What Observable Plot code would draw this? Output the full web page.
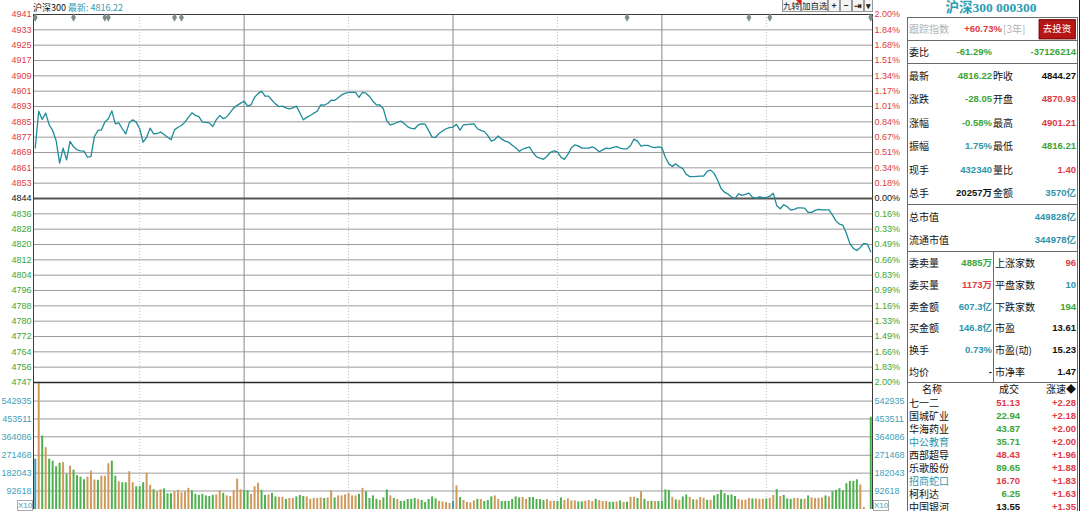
<!DOCTYPE html>
<html lang="zh">
<head>
<meta charset="UTF-8">
<title>沪深300 分时</title>
<script src="https://cdn.jsdelivr.net/npm/d3@7"></script>
<script src="https://cdn.jsdelivr.net/npm/@observablehq/plot@0.6"></script>
<style>
  body { margin: 0; background: #fff; overflow: hidden; }
  #page { position: relative; width: 1080px; height: 511px; overflow: hidden; font-family: "Liberation Sans", Arial, "Noto Sans CJK SC", sans-serif; }
  #price, #volume { position: absolute; left: 0; }
  #price { top: 0; }
  #volume { top: 382px; }
  .t { position: absolute; white-space: nowrap; line-height: 1; transform: translateY(-50%); }
  .cn { font-family: "Noto Sans CJK SC", sans-serif; font-size: 10px; }
  .num { font-family: "Liberation Sans", "Noto Sans CJK SC", sans-serif; font-size: 9.5px; font-weight: bold; }
  .ln { position: absolute; background: #6a6a6a; }
  .btn { position: absolute; top: 0; height: 12px; border: 1px solid #999; border-top: none; background: #f4f4f4;
         font: 8.5px "Noto Sans CJK SC", sans-serif; line-height: 11px; text-align: center; color: #222;
         box-sizing: border-box; white-space: nowrap; overflow: hidden; }
  .x10 { position: absolute; top: 500px; width: 16px; height: 11px; border: 1px solid #aaa; box-sizing: border-box;
         font: 8px "Liberation Sans", sans-serif; line-height: 10px; text-align: center; color: #3f9fba; background: #fff; }
</style>
</head>
<body>
<div id="page">
  <div id="price"></div>
  <div id="volume"></div>
</div>
<script>
// 昨收
const base = 4844.27;

// 分时价格 (每分钟, 9:30 - 11:30, 13:01 - 15:00)
const price = [
  4870.9, 4890.2, 4885.9, 4889.2, 4883.1, 4880.1, 4874.8, 4862.9, 4870.8, 4864.6,
  4874.3, 4871.5, 4869.9, 4869.4, 4869.2, 4866.0, 4866.3, 4876.9, 4880.1, 4880.4,
  4884.5, 4886.3, 4890.4, 4883.6, 4884.1, 4881.0, 4878.3, 4884.1, 4885.7, 4884.5,
  4881.0, 4873.9, 4876.5, 4881.3, 4878.3, 4878.5, 4879.2, 4878.0, 4876.5, 4875.2,
  4880.4, 4881.8, 4882.7, 4884.5, 4887.0, 4889.4, 4888.0, 4887.4, 4884.5, 4884.3,
  4884.1, 4882.2, 4885.7, 4888.0, 4886.3, 4887.2, 4889.5, 4892.0, 4893.3, 4894.5,
  4895.5, 4893.0, 4893.6, 4897.6, 4899.5, 4900.8, 4898.2, 4898.2, 4896.0, 4894.1,
  4892.7, 4892.9, 4892.0, 4891.5, 4892.0, 4892.9, 4889.4, 4885.7, 4887.0, 4888.0,
  4889.2, 4890.2, 4893.6, 4893.4, 4894.3, 4896.0, 4895.9, 4897.3, 4898.8, 4899.6,
  4900.1, 4900.1, 4900.1, 4897.5, 4900.1, 4899.7, 4898.0, 4895.5, 4893.6, 4893.5,
  4891.5, 4885.0, 4883.0, 4883.5, 4884.4, 4885.0, 4883.8, 4882.0, 4881.2, 4881.0,
  4883.0, 4883.6, 4883.4, 4880.0, 4876.6, 4876.5, 4878.5, 4879.8, 4881.0, 4881.6,
  4881.9, 4883.3, 4880.3, 4883.0, 4883.2, 4883.4, 4883.6, 4881.0, 4880.1, 4879.5,
  4877.4, 4874.5, 4875.3, 4877.2, 4875.5, 4874.5, 4873.9, 4872.3, 4871.0, 4869.1,
  4870.2, 4870.9, 4871.3, 4868.5, 4866.2, 4865.5, 4864.9, 4866.5, 4868.6, 4869.4,
  4868.8, 4866.0, 4864.9, 4867.5, 4871.0, 4872.5, 4872.0, 4870.8, 4870.8, 4870.8,
  4871.5, 4870.5, 4868.9, 4869.9, 4870.8, 4870.5, 4871.2, 4871.6, 4870.8, 4870.4,
  4870.4, 4872.2, 4875.5, 4874.5, 4871.8, 4872.2, 4872.2, 4871.4, 4871.0, 4871.4,
  4871.0, 4866.0, 4862.5, 4861.2, 4862.5, 4861.0, 4860.0, 4857.0, 4855.8, 4855.8,
  4855.9, 4856.0, 4856.1, 4858.5, 4859.2, 4857.5, 4854.0, 4849.5, 4847.6, 4846.6,
  4845.0, 4844.2, 4846.7, 4845.9, 4846.4, 4847.1, 4845.0, 4844.3, 4845.2, 4844.7,
  4844.8, 4845.5, 4847.0, 4840.5, 4838.9, 4841.0, 4840.0, 4838.2, 4838.6, 4839.3,
  4839.3, 4839.2, 4837.0, 4837.0, 4838.0, 4838.5, 4838.3, 4838.3, 4838.3, 4835.5,
  4832.5, 4830.8, 4830.2, 4826.0, 4820.5, 4818.0, 4816.9, 4818.5, 4820.6, 4820.3,
  4816.2
];

// 成交量 (千, 坐标单位 X10)
const volK = [
  252, 630, 368, 310, 252, 242, 214, 232, 235, 176,
  217, 197, 169, 162, 149, 162, 192, 147, 146, 167,
  167, 229, 242, 167, 139, 134, 134, 189, 134, 114,
  114, 134, 182, 121,  99,  89,  99, 103,  79,  79,
   89,  96,  84,  89, 106,  94,  76,  71,  76,  68,
   65,  71,  73,  94,  81,  68,  65,  94, 152,  99,
   94,  94,  76, 114, 131,  96,  70,  73,  81,  63,
   61,  61,  51,  55,  55,  63,  70,  65,  63,  51,
   55,  55,  58,  55,  58,  94,  58,  68,  68,  73,
   81,  68,  68,  76, 106,  89,  55,  68,  51,  45,
   58,  98,  68,  55,  50,  41,  41,  50,  50,  55,
   50,  45,  35,  50,  63,  53,  41,  38,  35,  30,
   40, 118,  60,  45,  35,  33,  43,  51,  50,  40,
   45,  63,  68,  51,  40,  40,  41,  50,  63,  58,
   60,  51,  60,  60,  50,  50,  45,  50,  41,  40,
   40,  58,  45,  53,  43,  43,  38,  38,  41,  45,
   40,  51,  45,  40,  40,  36,  36,  38,  43,  36,
   36,  61,  61,  55,  89,  51,  40,  41,  40,  40,
   40,  98,  96,  61,  48,  46,  63,  73,  61,  48,
   48,  60,  56,  46,  46,  68,  75,  96,  79,  70,
   73,  65,  50,  46,  46,  55,  53,  53,  51,  51,
   53,  56,  70,  99,  65,  71,  53,  51,  55,  55,
   51,  51,  68,  58,  55,  56,  58,  68,  63,  89,
   96, 104,  94, 129, 141, 141, 149, 123,  10,   0,
  462
];

// 量柱方向: u 涨, d 跌, n 平/集合竞价
const volDir = (
  "nududdddud" + "udddduuudu" + "uuddudduud" + "dduuduuddd" + "uuuuuddddd" +
  "dduuduuuuu" + "dduuuddudd" + "uuduuddduu" + "uuuduuduuu" + "uuududdddu" +
  "ddududdddd" + "uddddduuuu" + "nuduuuudud" + "dduudddddd" + "uuddddduuu" +
  "dduuuudduu" + "uduuuddudu" + "duudududud" + "dddududdud" + "uuududdddd" +
  "dduuuuduuu" + "duududdduu" + "duduuuudud" + "ddddddduun" + "d"
).split("");

// 坐标刻度文字
const priceLabels = ["4941","4933","4925","4917","4909","4901","4893","4885","4877","4869","4861","4853",
  "4844","4836","4828","4820","4812","4804","4796","4788","4780","4772","4764","4756","4747"];
const pctLabels = ["2.00%","1.84%","1.68%","1.51%","1.34%","1.17%","1.01%","0.84%","0.67%","0.51%","0.34%","0.18%",
  "0.00%","0.16%","0.33%","0.49%","0.66%","0.83%","0.99%","1.16%","1.33%","1.49%","1.66%","1.83%","2.00%"];
const volTicks = [542935, 453511, 364086, 271468, 182043, 92618];

// 信息地雷位置 (分钟序号)
const infoMarks = [0, 11, 20, 21, 40, 42, 170, 205, 211, 240];

// 时间分隔线 (分钟序号)
const solidGrid = [60, 120, 180];
const dottedGrid = [30, 90, 150, 210];

const RED = "#de3b45", GREEN = "#3aa53a", TEAL = "#2e95ab", BLACK = "#111";
const upC = "#cf9a5c", downC = "#4fb04f", flatC = "#3d9db6";

const bars = volK.map((v, i) => ({
  i, v: v * 1000,
  c: volDir[i] === "u" ? upC : volDir[i] === "d" ? downC : flatC
}));
const line = price.map((p, i) => ({i, p}));

const steps = d3.range(12, -13, -1);
const ticks = steps.map((k, j) => ({
  p: base * (1 + k * (2 / 12) / 100),
  label: priceLabels[j],
  pct: pctLabels[j],
  c: k > 0 ? RED : k < 0 ? GREEN : BLACK
}));

const xOpt = {type: "linear", domain: [-0.5, 240.5], axis: null};

const pricePlot = Plot.plot({
  width: 905, height: 392,
  marginTop: 14, marginBottom: 10, marginLeft: 33, marginRight: 33,
  style: {background: "transparent", overflow: "visible", fontFamily: "Liberation Sans, Arial, sans-serif"},
  x: xOpt,
  y: {domain: [base * 0.98, base * 1.02], axis: null},
  marks: [
    Plot.ruleY(ticks.filter(d => d.c !== BLACK), {y: "p", stroke: "#9c9c9c", strokeWidth: 1}),
    Plot.ruleX(dottedGrid, {x: d => d, stroke: "#bdbdbd", strokeDasharray: "1,2"}),
    Plot.ruleX(solidGrid, {x: d => d, stroke: "#8a8a8a"}),
    Plot.ruleY([base], {stroke: "#555", strokeWidth: 2}),
    Plot.frame({stroke: "#3a3a3a"}),
    Plot.line(line, {x: "i", y: "p", stroke: "#1f8b99", strokeWidth: 1.3}),
    Plot.dot(infoMarks, {x: d => d, frameAnchor: "top", dy: 3, symbol: "diamond", r: 2.6, fill: "#7f8c8c"}),
    Plot.text(ticks, {y: "p", text: "label", fill: "c", frameAnchor: "left", textAnchor: "end", dx: -2, fontSize: 9}),
    Plot.text(ticks, {y: "p", text: "pct", fill: "c", frameAnchor: "right", textAnchor: "start", dx: 2, fontSize: 9})
  ]
});
document.getElementById("price").append(pricePlot);

const volPlot = Plot.plot({
  width: 905, height: 129,
  marginTop: 0, marginBottom: 2, marginLeft: 33, marginRight: 33,
  style: {background: "transparent", overflow: "visible", fontFamily: "Liberation Sans, Arial, sans-serif"},
  x: xOpt,
  y: {domain: [0, 636000], axis: null},
  marks: [
    Plot.ruleY(volTicks, {stroke: "#9c9c9c"}),
    Plot.ruleX(dottedGrid, {x: d => d, stroke: "#bdbdbd", strokeDasharray: "1,2"}),
    Plot.ruleX(solidGrid, {x: d => d, stroke: "#8a8a8a"}),
    Plot.ruleX(bars, {x: "i", y1: 0, y2: "v", stroke: "c", strokeWidth: 2}),
    Plot.ruleX([-0.5, 240.5], {stroke: "#3a3a3a"}),
    Plot.ruleY([636000], {stroke: "#2a2a2a", strokeWidth: 1.5}),
    Plot.text(volTicks, {y: d => d, text: d => String(d), fill: "#3f9fba", frameAnchor: "left", textAnchor: "end", dx: -2, fontSize: 9}),
    Plot.text(volTicks, {y: d => d, text: d => String(d), fill: "#3f9fba", frameAnchor: "right", textAnchor: "start", dx: 2, fontSize: 9})
  ]
});
document.getElementById("volume").append(volPlot);

// ---- 页面文字 ----
const page = document.getElementById("page");
function put(text, x, y, cls, color, align) {
  const el = document.createElement("div");
  el.className = "t " + cls;
  el.textContent = text;
  el.style.top = y + "px";
  if (align === "right") el.style.right = (1080 - x) + "px";
  else if (align === "center") { el.style.left = x + "px"; el.style.transform = "translate(-50%,-50%)"; }
  else el.style.left = x + "px";
  if (color) el.style.color = color;
  page.appendChild(el);
  return el;
}
function hline(x1, x2, y, c) {
  const el = document.createElement("div");
  el.className = "ln";
  Object.assign(el.style, {left: x1 + "px", top: y + "px", width: (x2 - x1) + "px", height: "1px"});
  if (c) el.style.background = c;
  page.appendChild(el);
}
function vline(x, y1, y2, c) {
  const el = document.createElement("div");
  el.className = "ln";
  Object.assign(el.style, {left: x + "px", top: y1 + "px", width: "1px", height: (y2 - y1) + "px"});
  if (c) el.style.background = c;
  page.appendChild(el);
}

// 标题栏
const head = put("", 33, 7, "cn", BLACK);
head.style.fontSize = "9px";
head.innerHTML = '沪深300 <span style="color:#3a9ab0">最新: 4816.22</span>';

const tools = [["九转", 782, 19], ["加自选", 801, 27], ["+", 828, 12], ["−", 840, 12], ["⇥", 852, 12], ["▾", 864, 9]];
tools.forEach(([t, x, w]) => {
  const b = document.createElement("div");
  b.className = "btn";
  b.textContent = t;
  Object.assign(b.style, {left: x + "px", width: w + "px"});
  if (t.length === 1) b.style.fontWeight = "bold";
  page.appendChild(b);
});
const tri = document.createElement("div");
Object.assign(tri.style, {position: "absolute", left: "796px", top: "0px", width: 0, height: 0,
  borderTop: "5px solid #e01818", borderLeft: "5px solid transparent"});
page.appendChild(tri);

const xl = document.createElement("div"); xl.className = "x10"; xl.textContent = "X10"; xl.style.left = "17px"; page.appendChild(xl);
const xr = document.createElement("div"); xr.className = "x10"; xr.textContent = "X10"; xr.style.left = "873px"; page.appendChild(xr);

// ---- 右侧行情面板 ----
const colorOf = {r: RED, g: GREEN, t: TEAL, k: BLACK};

const title = put("沪深300 000300", 991, 8, "", "#2a9cb4", "center");
Object.assign(title.style, {fontFamily: "Liberation Serif, Noto Sans CJK SC, serif", fontWeight: "bold", fontSize: "13.5px"});

const L = 908, R = 1077;
vline(L - 1, 17, 511);
vline(R, 17, 511);
vline(1079, 0, 511, "#222");
hline(L - 1, R, 17);

put("跟踪指数", 909, 29, "cn", "#b3b3b3");
put("+60.73%", 1002, 29, "num", RED, "right");
put("[3年]", 1003, 29, "cn", "#b3b3b3");
const go = put("去投资", 1057, 29, "cn", "#fff", "center");
Object.assign(go.style, {background: "#b51717", padding: "4px 3px", fontSize: "9.5px", border: "1px solid #7a0d0d"});
hline(L - 1, R, 40);

const weibi = ["委比", "-61.29%", "-37126214"];
put(weibi[0], 909, 52, "cn", BLACK);
put(weibi[1], 992, 52, "num", GREEN, "right");
put(weibi[2], 1076, 52, "num", GREEN, "right");
hline(L - 1, R, 63);

const quoteRows = [
  ["最新", "4816.22", "g", "昨收", "4844.27", "k"],
  ["涨跌", "-28.05", "g", "开盘", "4870.93", "r"],
  ["涨幅", "-0.58%", "g", "最高", "4901.21", "r"],
  ["振幅", "1.75%", "t", "最低", "4816.21", "g"],
  ["现手", "432340", "t", "量比", "1.40", "r"],
  ["总手", "20257万", "k", "金额", "3570亿", "t"]
];
quoteRows.forEach((r, j) => {
  const y = 76 + j * 23.4;
  put(r[0], 909, y, "cn", BLACK);
  put(r[1], 992, y, "num", colorOf[r[2]], "right");
  put(r[3], 993, y, "cn", BLACK);
  put(r[4], 1076, y, "num", colorOf[r[5]], "right");
});
hline(L - 1, R, 204);

const marketRows = [["总市值", "449828亿", "t"], ["流通市值", "344978亿", "t"]];
marketRows.forEach((r, j) => {
  const y = 217 + j * 23;
  put(r[0], 909, y, "cn", BLACK);
  put(r[1], 1076, y, "num", colorOf[r[2]], "right");
});
hline(L - 1, R, 251);

const depthRows = [
  ["委卖量", "4885万", "g", "上涨家数", "96", "r"],
  ["委买量", "1173万", "r", "平盘家数", "10", "t"],
  ["卖金额", "607.3亿", "t", "下跌家数", "194", "g"],
  ["买金额", "146.8亿", "t", "市盈", "13.61", "k"],
  ["换手", "0.73%", "t", "市盈(动)", "15.23", "k"],
  ["均价", "-", "k", "市净率", "1.47", "k"]
];
depthRows.forEach((r, j) => {
  const y = 263 + j * 21.8;
  put(r[0], 909, y, "cn", BLACK);
  put(r[1], 992, y, "num", colorOf[r[2]], "right");
  put(r[3], 995, y, "cn", BLACK);
  put(r[4], 1076, y, "num", colorOf[r[5]], "right");
});
vline(993, 251, 382);
hline(L - 1, R, 382);

put("名称", 932, 389, "cn", BLACK, "center");
put("成交", 1009, 389, "cn", BLACK, "center");
put("涨速◆", 1076, 389, "cn", BLACK, "right");

const movers = [
  ["七一二", "k", "51.13", "r", "+2.28"],
  ["国城矿业", "k", "22.94", "g", "+2.18"],
  ["华海药业", "k", "43.87", "g", "+2.00"],
  ["中公教育", "t", "35.71", "g", "+2.00"],
  ["西部超导", "k", "48.43", "r", "+1.96"],
  ["乐歌股份", "k", "89.65", "g", "+1.88"],
  ["招商蛇口", "t", "16.70", "r", "+1.83"],
  ["柯利达", "k", "6.25", "g", "+1.63"],
  ["中国银河", "k", "13.55", "k", "+1.35"]
];
movers.forEach((r, j) => {
  const y = 403 + j * 13;
  put(r[0], 909, y, "cn", colorOf[r[1]]);
  put(r[2], 1020, y, "num", colorOf[r[3]], "right");
  put(r[4], 1076, y, "num", RED, "right");
});
</script>
</body>
</html>
